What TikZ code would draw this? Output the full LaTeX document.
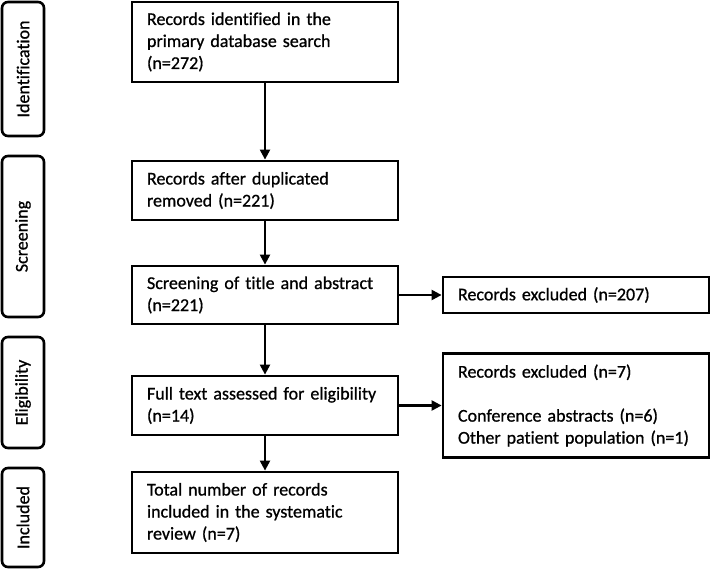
\documentclass[tikz,border=0pt]{standalone}
\usepackage{fontspec}
\setmainfont[Ligatures=NoCommon,FakeBold=0.8]{Carlito}
\usetikzlibrary{arrows.meta,positioning}

\begin{document}
\begin{tikzpicture}[x=1pt,y=-1pt,>={Triangle[length=10pt,width=10pt]},on grid,line width=2.2pt]
\tikzstyle{box} = [draw=black,line width=2.8pt,minimum width=266pt,text width=236pt,align=left,inner sep=0pt,font=\fontsize{18}{22}\selectfont]
\tikzstyle{phase} = [draw=black,line width=2.6pt,rounded corners=6pt,rotate=90,minimum height=42pt,inner sep=0pt,font=\fontsize{18}{22}\selectfont]
    \useasboundingbox (0,0) rectangle (711,569);
    % main column
    \node[box,minimum height=80pt] (ident) at (265,42) {Records identified in the\\primary database search\\(n=272)};
    \node[box,minimum height=59pt] (dup) [below=148.5pt of ident] {Records after duplicated\\removed (n=221)};
    \node[box,minimum height=58pt] (screen) [below=104.5pt of dup] {Screening of title and abstract\\(n=221)};
    \node[box,minimum height=59pt] (full) [below=110.5pt of screen] {Full text assessed for eligibility\\(n=14)};
    \node[box,minimum height=81pt] (incl) [below=107pt of full] {Total number of records\\included in the systematic\\review (n=7)};
    % excluded
    \node[box,minimum height=36pt] (excl1) [right=311pt of screen] {Records excluded (n=207)};
    \node[box,minimum height=104pt] (excl2) [right=311pt of full] {Records excluded (n=7)\\[22pt]Conference abstracts (n=6)\\Other patient population (n=1)};
    % phases
    \node[phase,minimum width=134pt] (pid) at (23,69) {Identification};
    \node[phase,minimum width=161pt] (pscr) at (23,236.5) {Screening};
    \node[phase,minimum width=111pt] (pelig) at (23,392.5) {Eligibility};
    \node[phase,minimum width=99pt] (pincl) at (23,517.5) {Included};

    \draw[->] (ident) -- (dup);
    \draw[->] (dup) -- (screen);
    \draw[->] (screen) -- (full);
    \draw[->] (full) -- (incl);
    \draw[->] (screen) -- (excl1);
    \draw[->] (full) -- (excl2);
\end{tikzpicture}
\end{document}
